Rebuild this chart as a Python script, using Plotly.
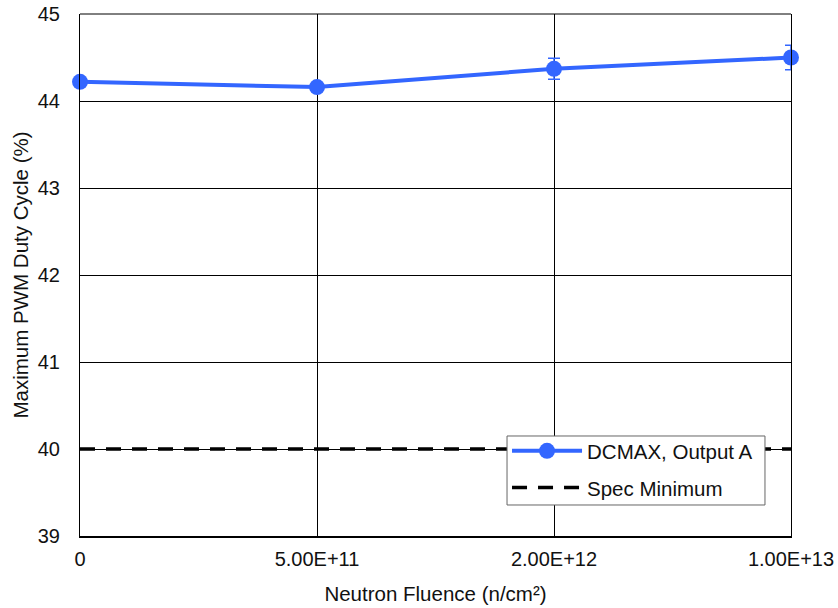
import plotly.graph_objects as go

categories = ["0", "5.00E+11", "2.00E+12", "1.00E+13"]
dcmax_values = [44.22, 44.16, 44.37, 44.50]
dcmax_errors = [0.03, 0.03, 0.12, 0.14]
spec_minimum = [40, 40, 40, 40]

blue = "#3366ff"
font = "Liberation Sans, Arial, sans-serif"
txt = "#111"

fig = go.Figure()
fig.add_trace(go.Scatter(
    x=categories, y=dcmax_values, mode="lines+markers", name="DCMAX, Output A",
    legendgroup="a",
    line=dict(color=blue, width=4),
    marker=dict(color=blue, size=16),
    error_y=dict(type="data", array=dcmax_errors, visible=True, color=blue, thickness=1.5, width=6),
    cliponaxis=False,
))
fig.add_trace(go.Scatter(
    x=categories, y=spec_minimum, mode="lines", name="Spec Minimum",
    legendgroup="b",
    line=dict(color="black", width=3.3, dash="15px,11px"), cliponaxis=False,
))

fig.update_layout(
    width=838, height=608,
    margin=dict(l=80, r=47, t=14, b=72),
    paper_bgcolor="white", plot_bgcolor="white",
    font=dict(family=font, size=20, color=txt),
    showlegend=True,
    legend=dict(
        x=0.6006, y=0.2011, xanchor="left", yanchor="top",
        bgcolor="rgba(0,0,0,0)", borderwidth=0,
        font=dict(family=font, size=20.5, color=txt),
        traceorder="grouped", itemwidth=70,
        tracegroupgap=7,
    ),
    xaxis=dict(
        type="category", range=[0, 3], automargin=False,
        showgrid=True, gridcolor="black", gridwidth=1,
        showline=True, linecolor="black", linewidth=2, mirror=False,
        ticks="", ticklabelstandoff=4, ticklabeloverflow="allow",
        tickfont=dict(family=font, size=20, color=txt),
        title=dict(text="Neutron Fluence (n/cm²)", font=dict(family=font, size=20.5, color=txt), standoff=18),
        zeroline=False,
    ),
    yaxis=dict(
        range=[39, 45], dtick=1, automargin=False,
        showgrid=True, gridcolor="black", gridwidth=1,
        showline=True, linecolor="black", linewidth=1, mirror=True,
        ticks="", ticklabelstandoff=15, ticklabeloverflow="allow",
        tickfont=dict(family=font, size=20, color=txt),
        title=dict(text="Maximum PWM Duty Cycle (%)", font=dict(family=font, size=20.5, color=txt), standoff=3),
        zeroline=False,
    ),
    shapes=[
        dict(type="line", xref="paper", yref="paper", x0=0, x1=1, y0=1, y1=1,
             line=dict(color="black", width=1)),
        # legend box
        dict(type="rect", xref="paper", yref="paper", x0=0.6006, x1=0.9634, y0=0.0594, y1=0.1916,
             fillcolor="white", line=dict(color="#666", width=1), layer="above"),
    ],
)

# remove the default 8px page margin so the figure sits at the window's top-left
fig.write_html("out.html", config={"displayModeBar": False},
               post_script="document.body.style.margin='0px';")
